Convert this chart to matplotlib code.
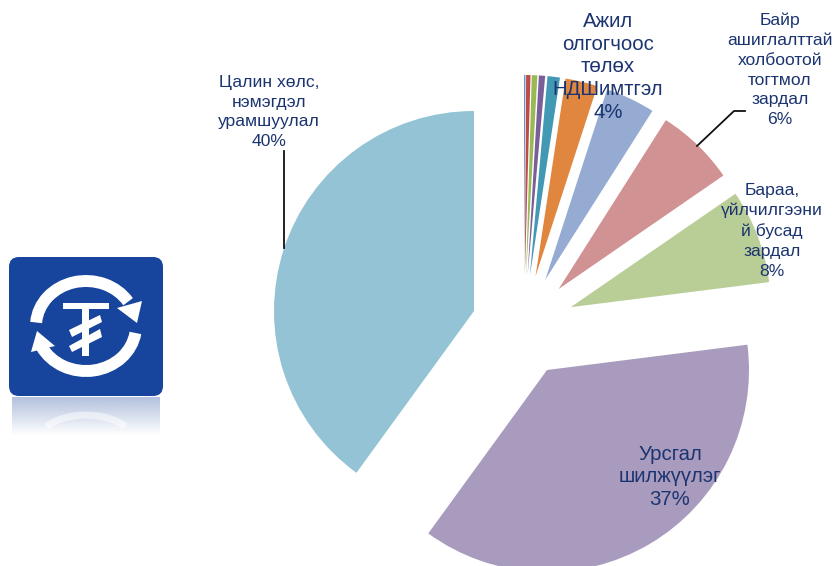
import numpy as np
import matplotlib
matplotlib.use('Agg')
import matplotlib.pyplot as plt
from matplotlib.patches import FancyBboxPatch, Polygon, Arc

plt.rcParams['font.family'] = ['Liberation Sans', 'DejaVu Sans']

# Share of expenses, clockwise from 12 o'clock (percent)
values = [0.1, 0.35, 0.45, 0.5, 1.0, 2.6, 4, 6.4, 7.6, 37, 40]
colors = ['#4F81BD', '#BE4B48', '#98B954', '#7A5E9A', '#4299B3', '#E0863F',
          '#95ABD2', '#D09293', '#B9CD96', '#A99BBD', '#93C3D5']
explode = [50] * 11  # pie takes this in data units, here pixels

W, H = 835, 566
TEXT = '#1B3470'


def Y(y):
    # picture pixels count from the top
    return H - y


def pts(*xy):
    return [(x, Y(y)) for x, y in xy]


fig = plt.figure(figsize=(W / 100, H / 100), dpi=100)
ax = fig.add_axes([0, 0, 1, 1])

wedges, _ = ax.pie(values, colors=colors, explode=explode, center=(524, Y(325)),
                   radius=200, startangle=90, counterclock=False, frame=False)
# the two big slices were dragged by hand, not along their bisector
wedges[9].set_center((547, Y(370)))
wedges[9].set_radius(202)
wedges[10].set_center((474, Y(311)))

# Labels
big = dict(fontsize=14.7, color=TEXT, ha='center', va='center', linespacing=1.25)
small = dict(fontsize=12.6, color=TEXT, ha='center', va='center', linespacing=1.4)
ax.text(608, Y(67), 'Ажил\nолгогчоос\nтөлөх\nНДШимтгэл\n4%', **big)
ax.text(780, Y(70), 'Байр\nашиглалттай\nхолбоотой\nтогтмол\nзардал\n6%', **small)
ax.text(772, Y(231), 'Бараа,\nүйлчилгээни\nй бусад\nзардал\n8%', **small)
ax.text(269, Y(112), 'Цалин хөлс,\nнэмэгдэл\nурамшуулал\n40%', **small)
ax.text(670, Y(477), 'Урсгал\nшилжүүлэг\n37%', **big)

# Leader lines
ax.plot([283.5, 283.5], [Y(151), Y(248)], color='#111111', lw=1.3)
ax.plot([697, 734, 745], [Y(146), Y(111), Y(111)], color='#111111', lw=1.3)

# Icon
BLUE = '#17449C'
ax.add_patch(FancyBboxPatch((19, Y(386)), 134, 119, boxstyle='round,pad=10,rounding_size=10',
                            fc=BLUE, ec='none'))
ring = dict(width=100, height=90, angle=0, color='white', lw=8.6, capstyle='butt')
ax.add_patch(Arc((86, Y(326)), theta1=30, theta2=176, **ring))
ax.add_patch(Arc((86, Y(326)), theta1=205, theta2=352, **ring))
ax.add_patch(Polygon(pts((142, 301), (117, 308), (137, 323)), fc='white', ec='none'))
ax.add_patch(Polygon(pts((37, 331), (55, 346), (31, 352)), fc='white', ec='none'))
ax.add_patch(Polygon(pts((63, 303), (109, 303), (109, 309), (63, 309)), fc='white', ec='none'))
ax.add_patch(Polygon(pts((82, 309), (89, 309), (89, 356), (82, 356)), fc='white', ec='none'))
ax.add_patch(Polygon(pts((69, 330), (100, 315), (102, 322), (72, 337)), fc='white', ec='none'))
ax.add_patch(Polygon(pts((69, 346), (100, 329), (102, 337), (72, 352)), fc='white', ec='none'))

# Icon reflection
fade = np.zeros((40, 1, 4))
fade[:, :, :3] = matplotlib.colors.to_rgb(BLUE)
fade[:, :, 3] = np.linspace(0.33, 0, 40)[:, None]
ax.imshow(fade, extent=(12, 160, Y(436), Y(397)), aspect='auto', zorder=1, interpolation='bilinear')
ax.add_patch(Arc((86, Y(445)), 100, 60, theta1=25, theta2=155, color='white', lw=5, alpha=0.5, zorder=2))

ax.set_xlim(0, W)
ax.set_ylim(0, H)
ax.set_aspect('auto')
ax.axis('off')

fig.savefig('out.png', dpi=100)
